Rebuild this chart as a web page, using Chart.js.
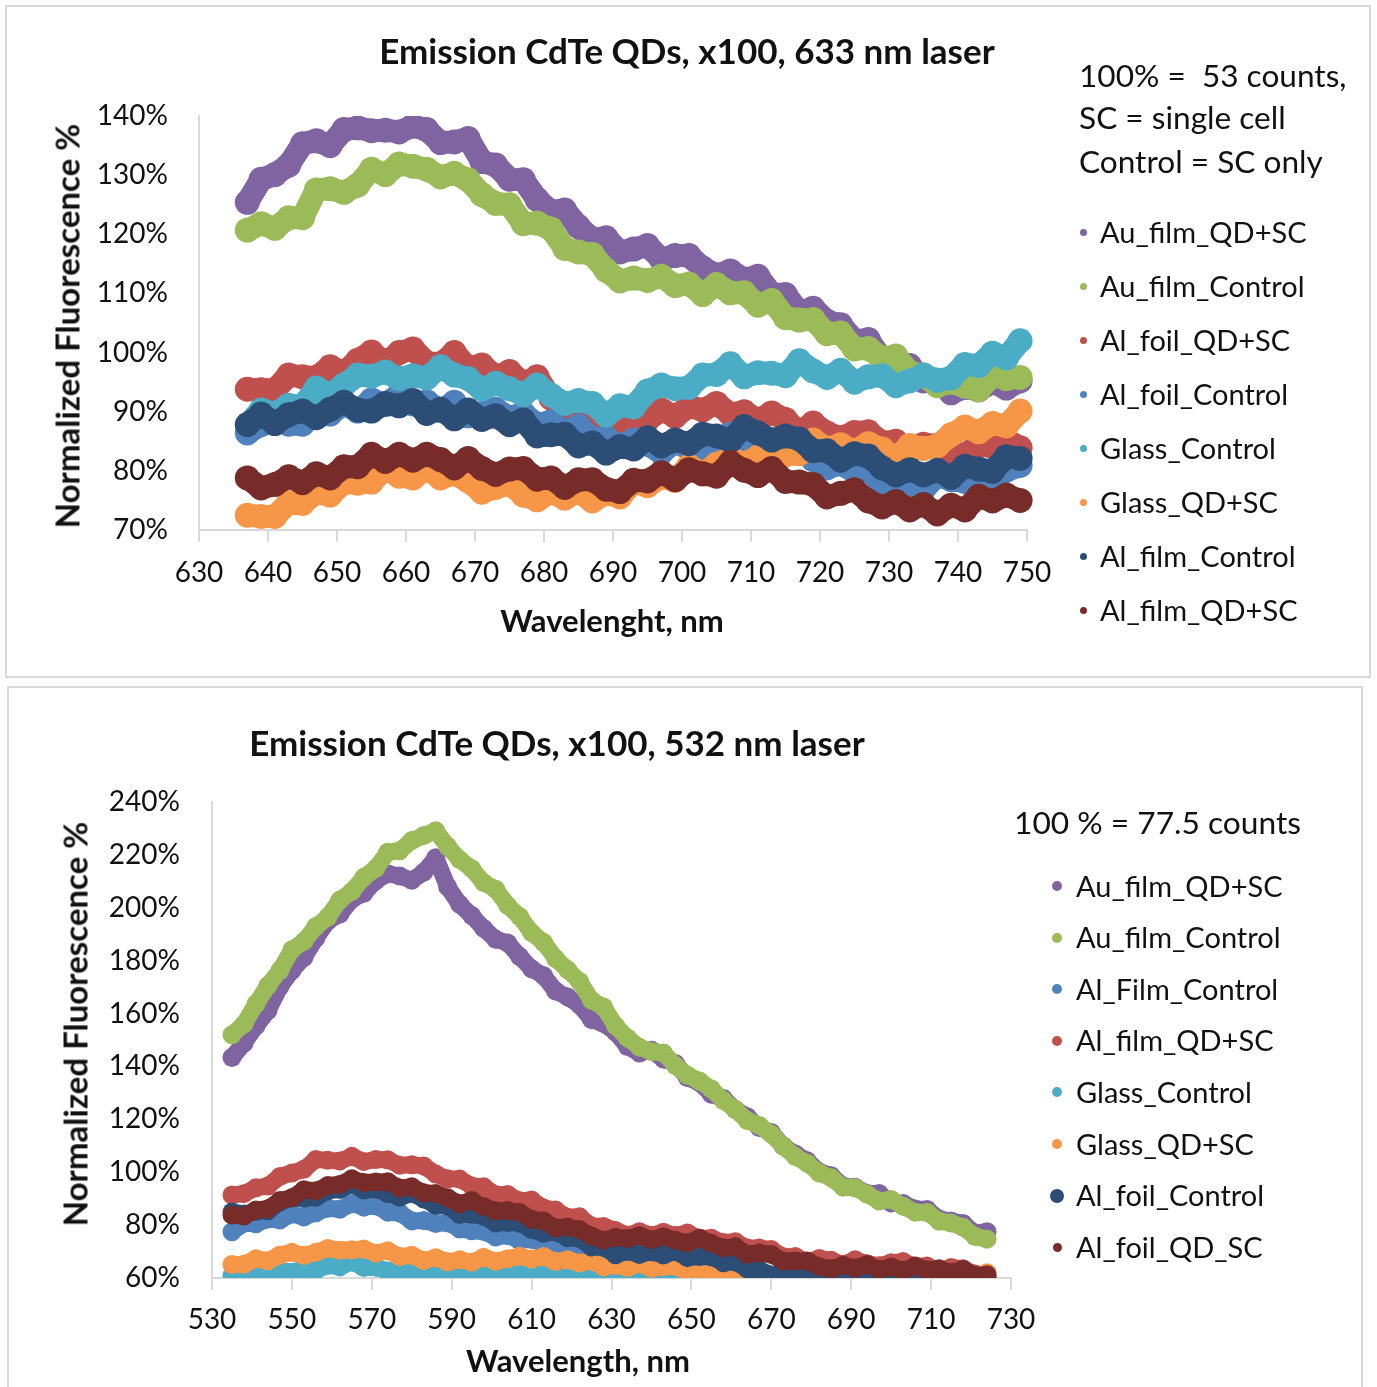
<!DOCTYPE html>
<html>
<head>
<meta charset="utf-8">
<title>Emission CdTe QDs</title>
<script src="https://cdn.jsdelivr.net/npm/chart.js@4.4.1/dist/chart.umd.min.js"></script>
<style>
  html, body { margin: 0; padding: 0; background: #fff; }
  body { width: 1377px; height: 1387px; position: relative; overflow: hidden; font-family: Lato, sans-serif; color: #111; }
  .panel { position: absolute; border: 2px solid #d9d9d9; box-sizing: border-box; background: #fff; }
  canvas { position: absolute; left: 0; }
  .txt { position: absolute; white-space: pre; line-height: 1; }
  .dot { position: absolute; border-radius: 50%; }
</style>
</head>
<body>
<div class="panel" style="left:5px;top:5px;width:1366px;height:673px"></div>
<div class="panel" style="left:7px;top:686px;width:1356px;height:720px"></div>
<canvas id="chart633" width="1377" height="680" style="top:0"></canvas>
<canvas id="chart532" width="1377" height="707" style="top:680px"></canvas>
<div id="labels"></div>

<script>
// ---------- 633 nm excitation ----------
const wl633 = [
  637, 639, 641, 643, 645, 647, 649, 651, 653, 655,
  657, 659, 661, 663, 665, 667, 669, 671, 673, 675,
  677, 679, 681, 683, 685, 687, 689, 691, 693, 695,
  697, 699, 701, 703, 705, 707, 709, 711, 713, 715,
  717, 719, 721, 723, 725, 727, 729, 731, 733, 735,
  737, 739, 741, 743, 745, 747, 749
];
const xTicks633 = [630, 640, 650, 660, 670, 680, 690, 700, 710, 720, 730, 740, 750];
const yTicks633 = [70, 80, 90, 100, 110, 120, 130, 140];

const auFilmQdSc633 = [
  125.4, 129.3, 130.1, 131.7, 135.3, 135.8, 135.0, 137.7, 138.0, 137.5,
  137.6, 137.3, 138.3, 137.7, 135.5, 135.6, 136.2, 132.3, 131.7, 129.3,
  129.2, 125.9, 123.9, 124.1, 121.3, 119.2, 119.4, 117.0, 117.5, 118.1,
  115.8, 116.4, 116.4, 114.3, 113.1, 113.8, 112.4, 112.9, 109.9, 109.8,
  106.8, 107.5, 105.3, 104.7, 102.0, 102.2, 98.9, 98.3, 97.8, 95.2,
  95.3, 93.2, 94.1, 93.7, 95.0, 94.0, 95.2
];
const auFilmControl633 = [
  120.7, 121.8, 121.0, 122.8, 122.8, 127.5, 127.7, 127.1, 128.3, 131.0,
  130.1, 131.9, 131.5, 131.0, 129.7, 130.3, 129.2, 126.7, 125.2, 125.0,
  121.8, 121.9, 120.9, 117.6, 117.0, 116.6, 113.9, 112.1, 112.6, 112.2,
  112.9, 111.3, 111.6, 109.8, 111.5, 110.1, 110.1, 108.0, 108.8, 105.9,
  105.5, 105.6, 103.2, 103.3, 100.6, 100.7, 99.1, 99.4, 96.6, 96.2,
  94.4, 95.0, 94.3, 93.7, 96.1, 95.6, 95.8
];
const alFoilQdSc633 = [
  93.8, 93.7, 93.7, 96.2, 95.9, 95.8, 97.6, 96.6, 98.7, 100.1,
  98.2, 100.0, 100.6, 98.3, 98.1, 100.0, 97.4, 97.9, 95.9, 96.8,
  94.8, 95.9, 92.3, 90.9, 88.8, 90.0, 87.7, 88.1, 89.4, 88.6,
  90.3, 89.2, 90.9, 90.3, 91.4, 89.6, 90.0, 88.6, 89.8, 88.7,
  86.5, 88.1, 86.4, 85.6, 86.5, 86.6, 84.8, 85.0, 83.2, 84.5,
  84.3, 83.1, 82.7, 84.4, 84.1, 85.3, 83.9
];
const alFoilControl633 = [
  86.4, 87.8, 89.0, 87.9, 87.9, 89.8, 89.6, 91.3, 90.1, 92.0,
  91.2, 92.9, 91.3, 91.7, 90.2, 91.6, 89.3, 89.7, 90.4, 89.0,
  89.7, 87.8, 88.3, 86.7, 87.6, 85.4, 85.6, 84.2, 85.2, 84.5,
  83.1, 84.9, 83.8, 83.6, 85.3, 86.2, 85.0, 85.4, 83.8, 84.9,
  84.3, 81.9, 80.5, 81.2, 79.9, 80.1, 77.9, 78.8, 77.7, 76.9,
  79.2, 78.5, 78.2, 80.0, 78.4, 80.1, 80.9
];
const glassControl633 = [
  87.8, 90.3, 89.7, 91.1, 91.0, 94.0, 92.9, 94.5, 96.2, 96.0,
  96.7, 95.6, 96.1, 95.7, 97.6, 96.2, 95.6, 93.8, 94.8, 93.9,
  92.9, 94.5, 92.8, 91.4, 91.9, 91.4, 89.4, 91.0, 90.8, 93.5,
  94.5, 93.9, 94.1, 96.2, 96.3, 98.1, 95.9, 96.6, 96.5, 96.1,
  98.6, 96.9, 95.8, 97.0, 95.0, 95.9, 96.1, 94.4, 95.2, 96.2,
  95.3, 95.7, 98.0, 97.8, 99.9, 99.1, 102.0
];
const glassQdSc633 = [
  72.5, 72.3, 72.3, 74.6, 74.5, 76.3, 75.9, 78.0, 77.9, 78.1,
  80.4, 79.1, 78.8, 80.4, 78.8, 79.5, 78.3, 76.4, 77.2, 77.8,
  75.9, 75.1, 76.4, 75.4, 76.5, 74.9, 76.2, 75.6, 78.1, 77.5,
  78.9, 78.4, 80.8, 79.5, 81.1, 82.2, 81.2, 82.3, 81.0, 82.7,
  82.9, 85.2, 83.8, 84.4, 83.4, 84.6, 83.7, 82.1, 84.3, 83.8,
  84.2, 86.1, 87.4, 86.6, 88.0, 87.6, 90.1
];
const alFilmControl633 = [
  87.8, 89.6, 88.0, 89.5, 90.1, 89.0, 90.4, 91.6, 90.3, 90.1,
  91.4, 91.0, 91.9, 89.7, 90.4, 88.8, 90.3, 88.7, 89.3, 87.8,
  88.6, 85.9, 86.1, 86.2, 84.2, 84.7, 83.0, 84.1, 83.7, 85.6,
  84.2, 85.2, 84.6, 86.2, 85.9, 85.1, 87.5, 86.4, 85.2, 85.9,
  85.4, 83.4, 83.4, 81.8, 82.9, 82.5, 80.5, 79.3, 80.2, 79.3,
  80.1, 78.9, 80.8, 80.3, 79.9, 82.4, 82.1
];
const alFilmQdSc633 = [
  78.8, 77.1, 77.7, 79.0, 78.0, 79.5, 78.8, 80.7, 80.7, 82.8,
  81.6, 82.8, 81.8, 82.8, 81.9, 80.5, 82.1, 80.4, 79.4, 80.3,
  80.4, 78.6, 78.8, 77.2, 78.5, 78.5, 76.9, 76.5, 78.4, 78.3,
  79.7, 78.5, 80.2, 79.5, 79.1, 81.4, 80.1, 79.2, 80.4, 78.2,
  78.1, 77.7, 75.6, 76.2, 76.8, 74.9, 73.9, 74.8, 73.4, 74.3,
  72.7, 74.2, 73.4, 75.7, 74.9, 75.9, 75.0
];

// ---------- 532 nm excitation ----------
const wl532 = [
  535, 538, 541, 544, 547, 550, 553, 556, 559, 562,
  565, 568, 571, 574, 577, 580, 583, 586, 589, 592,
  595, 598, 601, 604, 607, 610, 613, 616, 619, 622,
  625, 628, 631, 634, 637, 640, 643, 646, 649, 652,
  655, 658, 661, 664, 667, 670, 673, 676, 679, 682,
  685, 688, 691, 694, 697, 700, 703, 706, 709, 712,
  715, 718, 721, 724
];
const xTicks532 = [530, 550, 570, 590, 610, 630, 650, 670, 690, 710, 730];
const yTicks532 = [60, 80, 100, 120, 140, 160, 180, 200, 220, 240];

const auFilmQdSc532 = [
  143.4, 148.8, 155.3, 161.1, 170.1, 176.3, 181.2, 188.5, 195.0, 197.6,
  203.2, 205.5, 210.2, 212.9, 212.0, 210.4, 213.4, 218.9, 207.9, 201.3,
  197.1, 192.2, 188.1, 186.7, 181.6, 176.9, 174.3, 168.5, 166.3, 163.2,
  157.7, 156.2, 153.0, 147.5, 145.1, 146.1, 142.8, 141.1, 135.8, 133.9,
  129.5, 127.9, 123.7, 121.0, 116.9, 115.0, 109.9, 106.9, 104.3, 100.1,
  98.7, 94.7, 94.3, 92.0, 92.0, 88.4, 88.2, 86.1, 85.9, 82.3,
  81.6, 80.6, 77.0, 77.5
];
const auFilmControl532 = [
  152.0, 156.0, 163.6, 170.6, 176.3, 184.1, 187.3, 192.9, 196.5, 202.9,
  206.2, 211.5, 214.9, 221.0, 221.6, 225.4, 227.3, 229.1, 223.2, 218.2,
  214.8, 209.5, 207.0, 200.9, 196.7, 190.6, 186.9, 180.8, 176.6, 172.1,
  165.0, 162.5, 155.4, 150.8, 147.3, 145.6, 145.1, 140.3, 136.7, 134.5,
  131.5, 127.1, 123.7, 119.5, 117.7, 114.4, 109.8, 105.9, 103.4, 99.7,
  97.9, 94.3, 94.1, 91.7, 89.1, 89.7, 87.1, 84.9, 84.8, 81.5,
  80.8, 79.2, 75.7, 74.7
];
const alFilmControl532 = [
  77.5, 80.7, 80.5, 82.3, 81.9, 84.2, 83.1, 84.7, 86.4, 86.0,
  88.1, 86.8, 87.3, 84.9, 84.6, 81.6, 81.7, 80.6, 80.9, 78.5,
  77.9, 77.6, 75.5, 76.1, 74.2, 74.6, 73.1, 70.9, 72.1, 69.6,
  68.0, 68.3, 68.0, 66.0, 66.0, 64.2, 65.3, 65.1, 63.1, 62.1,
  63.0, 61.9, 62.4, 60.3, 61.0, 59.7, 58.7, 60.5, 59.1, 58.2,
  59.4, 57.5, 58.7, 58.9, 57.2, 58.0, 58.7, 57.1, 56.6, 58.0,
  57.1, 58.3, 56.4, 57.4
];
const alFilmQdSc532 = [
  91.4, 91.9, 94.1, 94.8, 98.4, 99.7, 101.1, 104.8, 104.5, 104.2,
  106.0, 104.0, 104.8, 104.7, 102.6, 102.8, 102.4, 99.3, 97.5, 97.4,
  94.8, 94.5, 91.5, 91.6, 89.2, 89.5, 86.5, 85.7, 83.0, 83.2,
  79.7, 79.5, 78.0, 76.2, 77.5, 76.2, 77.3, 76.1, 77.0, 75.0,
  75.0, 73.4, 73.7, 71.3, 71.3, 70.8, 68.0, 68.1, 66.2, 67.4,
  66.7, 65.1, 66.9, 65.4, 64.6, 65.8, 66.2, 64.4, 64.5, 62.8,
  64.0, 63.5, 61.5, 60.3
];
const glassControl532 = [
  61.0, 60.4, 62.0, 61.4, 62.9, 62.2, 63.5, 63.0, 64.8, 64.2,
  66.1, 64.0, 64.1, 62.6, 63.1, 61.8, 62.3, 61.2, 61.9, 61.0,
  62.1, 61.0, 61.9, 61.1, 62.2, 61.3, 62.4, 61.1, 61.7, 60.3,
  61.0, 59.7, 60.5, 59.3, 60.3, 59.4, 60.6, 59.8, 61.0, 60.3,
  61.4, 60.2, 60.9, 59.6, 60.3, 59.1, 60.0, 58.9, 59.8, 58.7,
  59.7, 58.6, 59.6, 58.5, 59.5, 58.4, 59.4, 58.3, 59.3, 58.2,
  59.2, 58.1, 59.1, 58.0
];
const glassQdSc532 = [
  65.1, 65.2, 67.3, 66.5, 68.7, 69.7, 68.5, 69.7, 71.2, 70.5,
  70.7, 71.0, 69.4, 70.3, 68.1, 68.6, 66.6, 67.7, 66.1, 66.9,
  66.0, 67.8, 66.3, 67.3, 68.2, 67.2, 68.1, 66.2, 66.9, 65.7,
  66.4, 64.2, 64.8, 64.0, 65.4, 63.7, 64.3, 64.4, 62.4, 63.7,
  62.4, 63.4, 62.5, 60.7, 62.3, 60.6, 59.7, 60.7, 61.0, 59.4,
  59.9, 58.6, 60.3, 60.5, 59.2, 58.7, 60.2, 59.8, 60.9, 59.4,
  60.8, 60.1, 59.7, 62.0
];
const alFoilControl532 = [
  85.0, 84.2, 85.2, 85.4, 88.7, 90.3, 90.1, 90.5, 93.0, 93.5,
  95.3, 93.3, 93.6, 91.9, 90.5, 92.0, 89.9, 87.4, 87.2, 84.0,
  84.1, 83.3, 80.8, 81.0, 80.8, 78.3, 76.9, 77.4, 75.2, 74.9,
  71.7, 71.6, 68.8, 70.1, 68.9, 69.9, 68.7, 70.0, 67.7, 68.1,
  68.0, 65.8, 66.1, 63.4, 63.1, 61.1, 62.0, 60.0, 60.5, 59.8,
  61.0, 59.4, 60.3, 60.7, 59.0, 60.6, 59.5, 60.8, 60.3, 59.0,
  60.9, 59.4, 58.6, 59.7
];
const alFoilQdSc532 = [
  83.8, 83.4, 85.7, 86.2, 89.3, 90.3, 93.4, 93.0, 95.0, 95.4,
  97.5, 96.1, 96.3, 96.4, 94.0, 94.5, 92.2, 92.0, 90.3, 88.1,
  89.3, 87.0, 85.4, 85.5, 84.8, 82.2, 81.6, 79.0, 79.3, 78.3,
  75.9, 74.3, 75.4, 74.9, 76.0, 74.5, 75.6, 74.3, 73.3, 75.0,
  73.1, 71.4, 71.8, 69.0, 69.5, 68.9, 66.4, 66.4, 66.4, 64.3,
  63.5, 64.8, 63.8, 65.1, 63.2, 64.2, 62.8, 64.5, 63.0, 63.5,
  62.0, 63.2, 60.9, 61.2
];

// Office palette
const PURPLE = '#8064A2', GREEN = '#9BBB59', RED = '#C0504D', BLUE = '#4F81BD',
      CYAN = '#4BACC6', ORANGE = '#F79646', NAVY = '#2C4D75', MAROON = '#772C2A';

const TEXT = '#111';
Chart.defaults.font.family = 'Lato, sans-serif';
Chart.defaults.color = TEXT;

function buildChart(canvasId, cfg) {
  const n = cfg.series.length;
  const datasets = cfg.series.map((s, i) => ({
    label: s.name,
    data: cfg.wavelengths.map((w, k) => ({ x: w, y: s.values[k] })),
    showLine: true,
    borderColor: s.color,
    backgroundColor: s.color,
    borderWidth: cfg.lineWidth,
    borderJoinStyle: 'round',
    borderCapStyle: 'round',
    pointRadius: cfg.pointRadius,
    pointBorderWidth: 0,
    pointHoverRadius: cfg.pointRadius,
    // later series are painted over earlier ones
    order: n - i,
    clip: { left: 0, top: 0, right: 20, bottom: 0 }
  }));

  const axisGrey = '#d9d9d9';
  return new Chart(document.getElementById(canvasId), {
    type: 'scatter',
    data: { datasets },
    options: {
      responsive: false,
      animation: false,
      events: [],
      layout: { padding: { left: 0, top: cfg.area.top, right: cfg.area.right, bottom: 0 } },
      plugins: { legend: { display: false }, tooltip: { enabled: false } },
      scales: {
        x: {
          type: 'linear',
          min: cfg.xTicks[0],
          max: cfg.xTicks[cfg.xTicks.length - 1],
          afterBuildTicks: sc => { sc.ticks = cfg.xTicks.map(v => ({ value: v })); },
          afterFit: sc => { sc.height = cfg.area.xHeight; },
          ticks: { font: { size: 28 }, color: TEXT, padding: cfg.area.xTickPad, maxRotation: 0, autoSkip: false },
          grid: { display: true, drawOnChartArea: false, drawTicks: true, tickLength: 12, color: axisGrey, lineWidth: 2 },
          border: { display: true, color: axisGrey, width: 2 },
          title: { display: false }
        },
        y: {
          type: 'linear',
          min: cfg.yTicks[0],
          max: cfg.yTicks[cfg.yTicks.length - 1],
          afterBuildTicks: sc => { sc.ticks = cfg.yTicks.map(v => ({ value: v })); },
          afterFit: sc => { sc.width = cfg.area.left; },
          ticks: { font: { size: 28 }, color: TEXT, padding: cfg.area.yTickPad, callback: v => v + '%' },
          grid: { display: true, drawOnChartArea: false, drawTicks: false, color: axisGrey },
          border: { display: true, color: axisGrey, width: 2 },
          title: { display: false }
        }
      }
    }
  });
}

const seriesNames633 = ['Au_film_QD+SC', 'Au_film_Control', 'Al_foil_QD+SC', 'Al_foil_Control',
                        'Glass_Control', 'Glass_QD+SC', 'Al_film_Control', 'Al_film_QD+SC'];
const seriesNames532 = ['Au_film_QD+SC', 'Au_film_Control', 'Al_Film_Control', 'Al_film_QD+SC',
                        'Glass_Control', 'Glass_QD+SC', 'Al_foil_Control', 'Al_foil_QD_SC'];

const series633 = [
  { name: seriesNames633[0], color: PURPLE, values: auFilmQdSc633 },
  { name: seriesNames633[1], color: GREEN, values: auFilmControl633 },
  { name: seriesNames633[2], color: RED, values: alFoilQdSc633 },
  { name: seriesNames633[3], color: BLUE, values: alFoilControl633 },
  { name: seriesNames633[4], color: CYAN, values: glassControl633 },
  { name: seriesNames633[5], color: ORANGE, values: glassQdSc633 },
  { name: seriesNames633[6], color: NAVY, values: alFilmControl633 },
  { name: seriesNames633[7], color: MAROON, values: alFilmQdSc633 }
];
const series532 = [
  { name: seriesNames532[0], color: PURPLE, values: auFilmQdSc532 },
  { name: seriesNames532[1], color: GREEN, values: auFilmControl532 },
  { name: seriesNames532[2], color: BLUE, values: alFilmControl532 },
  { name: seriesNames532[3], color: RED, values: alFilmQdSc532 },
  { name: seriesNames532[4], color: CYAN, values: glassControl532 },
  { name: seriesNames532[5], color: ORANGE, values: glassQdSc532 },
  { name: seriesNames532[6], color: NAVY, values: alFoilControl532 },
  { name: seriesNames532[7], color: MAROON, values: alFoilQdSc532 }
];

buildChart('chart633', {
  wavelengths: wl633, series: series633, xTicks: xTicks633, yTicks: yTicks633,
  lineWidth: 23, pointRadius: 12.5,
  area: { left: 199, top: 116, right: 350, xHeight: 150, xTickPad: 14, yTickPad: 31 }
});
buildChart('chart532', {
  wavelengths: wl532, series: series532, xTicks: xTicks532, yTicks: yTicks532,
  lineWidth: 17, pointRadius: 9.5,
  area: { left: 212, top: 122, right: 366, xHeight: 109, xTickPad: 13, yTickPad: 32 }
});

// ---------- titles, axis names, notes and legends ----------
const holder = document.getElementById('labels');
function addText(str, x, yMid, size, opts = {}) {
  const d = document.createElement('div');
  d.className = 'txt';
  d.textContent = str;
  d.style.fontSize = size + 'px';
  d.style.fontWeight = opts.bold ? '700' : '400';
  if (opts.rotate) {
    d.style.left = x + 'px';
    d.style.top = yMid + 'px';
    d.style.transform = 'translate(-50%, -50%) rotate(-90deg)';
  } else {
    d.style.top = (yMid - 0.53 * size) + 'px';
    d.style.left = x + 'px';
    if (opts.center) d.style.transform = 'translateX(-50%)';
  }
  holder.appendChild(d);
}
function addDot(x, y, r, color) {
  const d = document.createElement('div');
  d.className = 'dot';
  d.style.left = (x - r) + 'px'; d.style.top = (y - r) + 'px';
  d.style.width = d.style.height = (2 * r) + 'px';
  d.style.background = color;
  holder.appendChild(d);
}
function addLegend(series, dotX, textX, y0, gap, size, radii) {
  series.forEach((s, i) => {
    const y = y0 + i * gap;
    addDot(dotX, y, radii[i], s.color);
    addText(s.name, textX, y, size);
  });
}

addText('Emission CdTe QDs, x100, 633 nm laser', 687, 52, 35, { bold: true, center: true });
addText('Wavelenght, nm', 612, 621, 31, { bold: true, center: true });
addText('Normalized Fluorescence %', 67, 326, 33, { bold: true, rotate: true });
addText('100% =  53 counts,', 1079, 77, 31.6);
addText('SC = single cell', 1079, 119, 31.6);
addText('Control = SC only', 1079, 163, 31.6);
addLegend(series633, 1083, 1100, 232, 54.1, 29, [3.5, 3.5, 3.5, 3.5, 3.5, 3.5, 3.5, 3.5]);

addText('Emission CdTe QDs, x100, 532 nm laser', 557, 744, 35, { bold: true, center: true });
addText('Wavelength, nm', 578, 1361, 31, { bold: true, center: true });
addText('Normalized Fluorescence %', 75, 1024, 33, { bold: true, rotate: true });
addText('100 % = 77.5 counts', 1014, 824, 31.7);
addLegend(series532, 1057, 1076, 886, 51.6, 29, [5, 5, 5, 5, 5, 5, 7, 4.5]);
</script>
</body>
</html>
